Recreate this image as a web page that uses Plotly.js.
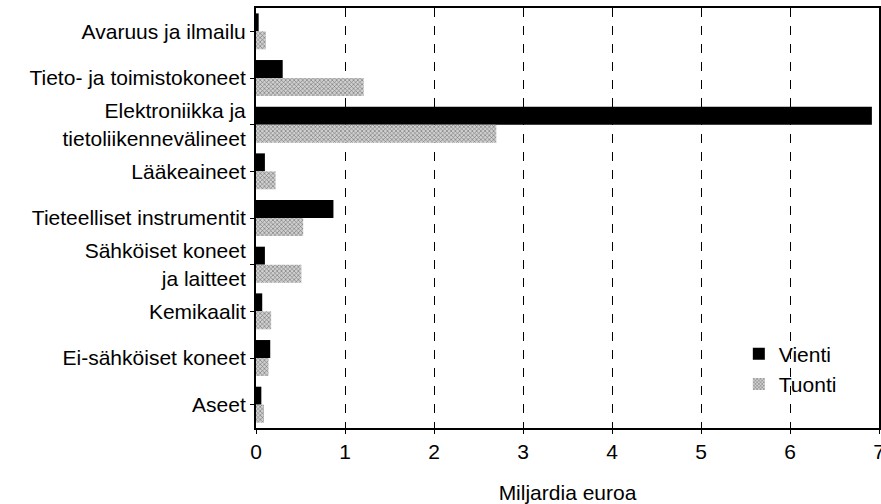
<!DOCTYPE html>
<html>
<head>
<meta charset="utf-8">
<script src="https://cdn.plot.ly/plotly-3.0.1.min.js"></script>
<style>html,body{margin:0;padding:0;background:#fff;}#chart{width:881px;height:504px;}</style>
</head>
<body>
<div id="chart"></div>
<script>
const categories = [
  "Avaruus ja ilmailu",
  "Tieto- ja toimistokoneet",
  "Elektroniikka ja<br>tietoliikennevälineet",
  "Lääkeaineet",
  "Tieteelliset instrumentit",
  "Sähköiset koneet<br>ja laitteet",
  "Kemikaalit",
  "Ei-sähköiset koneet",
  "Aseet"
];
const vienti = [0.03, 0.30, 6.92, 0.10, 0.87, 0.10, 0.07, 0.16, 0.06];
const tuonti = [0.11, 1.21, 2.70, 0.22, 0.53, 0.51, 0.17, 0.14, 0.09];
const xTicks = [0, 1, 2, 3, 4, 5, 6, 7];

const traces = [
  {type: 'bar', orientation: 'h', name: 'Vienti', y: categories, x: vienti,
   marker: {color: '#000000', line: {width: 0}}},
  {type: 'bar', orientation: 'h', name: 'Tuonti', y: categories, x: tuonti,
   marker: {color: '#b4b4b4', line: {width: 0},
            pattern: {shape: 'x', size: 3, solidity: 0.35, fgcolor: '#707070', bgcolor: '#d0d0d0'}}}
];

const layout = {
  width: 881, height: 504,
  margin: {l: 256, r: 2, t: 8, b: 76},
  paper_bgcolor: '#ffffff', plot_bgcolor: '#ffffff',
  font: {family: 'Liberation Sans, Arial, sans-serif', color: '#000000', size: 20},
  barmode: 'group', bargap: 0.23, bargroupgap: 0,
  showlegend: true,
  legend: {x: 0.775, y: 0.225, xanchor: 'left', yanchor: 'top', bgcolor: 'rgba(0,0,0,0)',
           font: {size: 21}, itemwidth: 30, tracegroupgap: 4},
  xaxis: {
    range: [0, 7], tickvals: xTicks, ticktext: xTicks.map(String),
    showgrid: true, gridcolor: '#000000', griddash: 'dash', gridwidth: 1,
    showline: true, linecolor: '#000000', linewidth: 2, mirror: true,
    ticks: 'outside', ticklen: 4, tickcolor: '#000', zeroline: false,
    ticklabeloverflow: 'allow',
    tickfont: {size: 21},
    title: {text: 'Miljardia euroa', font: {size: 21}, standoff: 24}
  },
  yaxis: {
    type: 'category', autorange: 'reversed',
    showline: true, linecolor: '#000000', linewidth: 2, mirror: true,
    ticks: 'outside', ticklen: 4, tickcolor: '#000', showgrid: false,
    tickfont: {size: 21}
  }
};

Plotly.newPlot('chart', traces, layout, {displayModeBar: false, staticPlot: true});
</script>
</body>
</html>
